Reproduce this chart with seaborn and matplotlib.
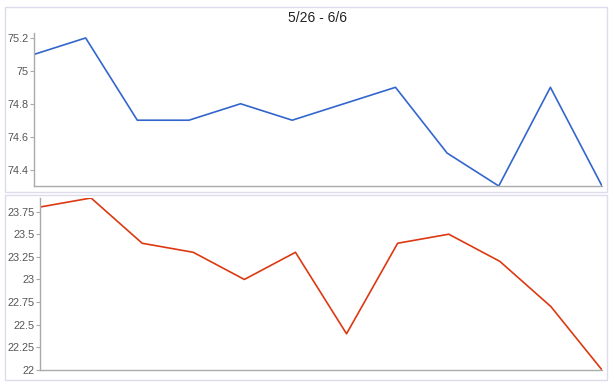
import numpy as np
import pandas as pd
import seaborn as sns
import matplotlib.pyplot as plt
from matplotlib.patches import Rectangle
from matplotlib.ticker import FuncFormatter

# Data (12 days, 5/26 - 6/6)
days = list(range(12))
top_values = [75.1, 75.2, 74.7, 74.7, 74.8, 74.7, 74.8, 74.9, 74.5, 74.3, 74.9, 74.3]
bottom_values = [23.8, 23.9, 23.4, 23.3, 23.0, 23.3, 22.4, 23.4, 23.5, 23.2, 22.7, 22.0]
top_ticks = [74.4, 74.6, 74.8, 75.0, 75.2]
bottom_ticks = [22, 22.25, 22.5, 22.75, 23, 23.25, 23.5, 23.75]
title = "5/26 - 6/6"

df = pd.DataFrame({"day": days, "top": top_values, "bottom": bottom_values})

sns.set_style("white")
plt.rcParams['font.family'] = ['Arial', 'Liberation Sans', 'DejaVu Sans']

fig = plt.figure(figsize=(6.14, 3.84), dpi=100)

# panel frames
frame_color = "#dcdcec"
fig.patches.append(Rectangle((0.008, 0.5), 0.981, 0.482, transform=fig.transFigure,
                             fill=False, edgecolor=frame_color, linewidth=1))
fig.patches.append(Rectangle((0.008, 0.0104), 0.981, 0.4816, transform=fig.transFigure,
                             fill=False, edgecolor=frame_color, linewidth=1))

ax1 = fig.add_axes([0.0554, 0.5156, 0.9251, 0.3984])
ax2 = fig.add_axes([0.0651, 0.0365, 0.9154, 0.4479])

sns.lineplot(data=df, x="day", y="top", ax=ax1, color="#3366cc", linewidth=1.2)
sns.lineplot(data=df, x="day", y="bottom", ax=ax2, color="#dc3912", linewidth=1.2)

fmt = FuncFormatter(lambda v, p: f"{v:g}")
for ax, ticks, lim in [(ax1, top_ticks, (74.3, 75.23)), (ax2, bottom_ticks, (22.0, 23.9))]:
    ax.set_xlim(0, 11)
    ax.set_ylim(*lim)
    ax.set_yticks(ticks)
    ax.yaxis.set_major_formatter(fmt)
    ax.set_xticks([])
    ax.set_xlabel("")
    ax.set_ylabel("")
    ax.set_facecolor("none")
    for s in ["top", "right"]:
        ax.spines[s].set_visible(False)
    for s in ["left", "bottom"]:
        ax.spines[s].set_color("#aaaaaa")
        ax.spines[s].set_linewidth(1)
    ax.tick_params(axis="y", length=3, width=0.8, color="#aaaaaa",
                   labelsize=7.8, labelcolor="#555555", pad=1, left=True)

fig.text(0.517, 0.953, title, ha="center", va="center", fontsize=10, color="#222222")

plt.savefig("out.png", dpi=100)
